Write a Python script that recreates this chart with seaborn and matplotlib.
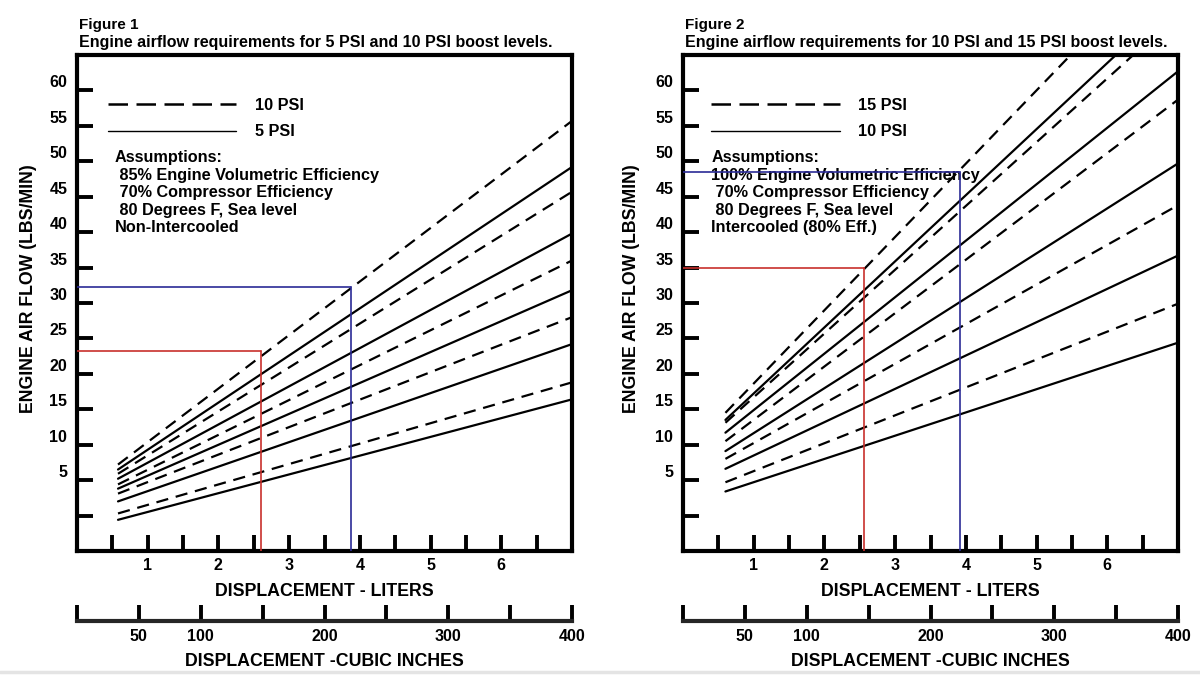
"""Engine airflow requirement charts (two panels) redrawn with seaborn."""

import matplotlib.pyplot as plt
import pandas as pd
import seaborn as sns
from matplotlib.lines import Line2D

# displacement (liters) at which each curve starts and at the right edge of the chart
SPAN_FIG1 = [0.58, 7.0]
SPAN_FIG2 = [0.6, 7.0]

# figure 1: airflow (lbs/min) at both ends of the span
FIG1_5PSI_START = [-0.6, 2.0, 3.8, 5.2, 6.5]
FIG1_5PSI_END = [16.4, 24.2, 31.8, 39.8, 49.2]
FIG1_10PSI_START = [0.3, 3.1, 4.4, 5.9, 7.2]
FIG1_10PSI_END = [18.8, 28.0, 36.0, 45.7, 55.7]

# figure 2: the upper curves run off the top of the chart
FIG2_10PSI_START = [3.4, 6.6, 9.1, 11.7, 13.5]
FIG2_10PSI_END = [24.4, 36.7, 49.7, 62.7, 73.2]
FIG2_15PSI_START = [4.7, 8.0, 10.5, 13.1, 14.5]
FIG2_15PSI_END = [29.9, 43.8, 58.7, 70.7, 80.7]

# worked examples drawn in red and blue (fig 1, fig 2)
RED_LITERS = [2.6, 2.56]
RED_FLOW = [23.2, 35.0]
BLUE_LITERS = [3.88, 3.92]
BLUE_FLOW = [32.3, 48.5]

Y_TICKS = list(range(0, 65, 5))
Y_TICK_LABELS = [""] + [str(v) for v in range(5, 65, 5)]
X_TICKS = [0.5 * i for i in range(1, 14)]
X_TICK_LABELS = [str(int(t)) if t == int(t) else "" for t in X_TICKS]
CI_TICKS = list(range(0, 401, 50))
CI_TICK_LABELS = ["", "50", "100", "", "200", "", "300", "", "400"]

FIG_NAMES = ["Figure 1", "Figure 2"]
FIG_TITLES = [
    "Engine airflow requirements for 5 PSI and 10 PSI boost levels.",
    "Engine airflow requirements for 10 PSI and 15 PSI boost levels.",
]
LEGEND_LABELS = [["10 PSI", "5 PSI"], ["15 PSI", "10 PSI"]]
ASSUMPTIONS = [
    "Assumptions:\n 85% Engine Volumetric Efficiency\n 70% Compressor Efficiency\n"
    " 80 Degrees F, Sea level\nNon-Intercooled",
    "Assumptions:\n100% Engine Volumetric Efficiency\n 70% Compressor Efficiency\n"
    " 80 Degrees F, Sea level\nIntercooled (80% Eff.)",
]

RED = "#c8302c"
BLUE = "#2b2b96"
CURVE_DASH = (5.5, 3.5)
TEXT_SIZE = 11.7
TICK_SIZE = 11.5
LABEL_SIZE = 12.8


def curves_frame(span, solid_start, solid_end, dashed_start, dashed_end, solid_name, dashed_name):
    """Long-form table with one straight curve per boost line."""
    rows = []
    for boost, starts, ends in (
        (solid_name, solid_start, solid_end),
        (dashed_name, dashed_start, dashed_end),
    ):
        for i, (y0, y1) in enumerate(zip(starts, ends)):
            rows.append({"curve": f"{boost}-{i}", "boost": boost, "liters": span[0], "flow": y0})
            rows.append({"curve": f"{boost}-{i}", "boost": boost, "liters": span[1], "flow": y1})
    return pd.DataFrame(rows)


# pylint: disable=too-many-arguments,too-many-locals
def draw_panel(fig, left, idx, df, solid_name, dashed_name, text_x, legend_x, ylabel_x):
    width = 0.4125
    ax = fig.add_axes([left, 0.1837, width, 0.7348])
    ci_ax = fig.add_axes([left, 0.0800, width, 0.03])

    sns.lineplot(
        data=df, x="liters", y="flow", units="curve", estimator=None, sort=False,
        style="boost", style_order=[solid_name, dashed_name],
        dashes={solid_name: "", dashed_name: CURVE_DASH},
        color="black", lw=1.6, legend=False, ax=ax, zorder=3,
    )

    # worked example
    rx, ry = RED_LITERS[idx], RED_FLOW[idx]
    bx, by = BLUE_LITERS[idx], BLUE_FLOW[idx]
    ax.plot([rx, rx], [-5, ry], color=RED, lw=1.2, zorder=4)
    ax.plot([0, rx], [ry, ry], color=RED, lw=1.2, zorder=4)
    ax.plot([bx, bx], [-5, by], color=BLUE, lw=1.2, zorder=4)
    ax.plot([0, bx], [by, by], color=BLUE, lw=1.2, zorder=4)

    ax.set_xlim(0, 7.0)
    ax.set_ylim(-5, 65)
    ax.set_xticks(X_TICKS, X_TICK_LABELS)
    ax.set_yticks(Y_TICKS, Y_TICK_LABELS)
    ax.tick_params(axis="both", direction="in", length=11.5, width=2.8, labelsize=TICK_SIZE,
                   bottom=True, left=True, right=False, top=False, color="black")
    ax.tick_params(axis="y", pad=7)
    ax.tick_params(axis="x", pad=5)
    for lab in ax.get_yticklabels():
        lab.set_verticalalignment("bottom")
    for lab in ax.get_xticklabels() + ax.get_yticklabels():
        lab.set_fontweight("bold")
    for spine in ax.spines.values():
        spine.set_visible(True)
        spine.set_linewidth(3.0)
        spine.set_color("black")

    ax.set_xlabel("DISPLACEMENT - LITERS", fontsize=LABEL_SIZE, fontweight="bold")
    ax.set_ylabel("ENGINE AIR FLOW (LBS/MIN)", fontsize=LABEL_SIZE, fontweight="bold")
    ax.xaxis.set_label_coords(0.5, -0.064)
    ax.yaxis.set_label_coords(ylabel_x, 0.53)

    handles = [
        Line2D([], [], color="black", lw=1.8, ls=(0, (7.8, 3.4))),
        Line2D([], [], color="black", lw=1.0),
    ]
    ax.legend(handles, LEGEND_LABELS[idx], loc="upper left", bbox_to_anchor=(legend_x, 0.914),
              frameon=False, handlelength=7.9, handletextpad=1.15, labelspacing=0.72,
              borderpad=0, borderaxespad=0, prop={"size": TEXT_SIZE, "weight": "bold"})

    ax.text(text_x, 0.808, ASSUMPTIONS[idx], transform=ax.transAxes, ha="left", va="top",
            fontsize=TEXT_SIZE, fontweight="bold", linespacing=1.21, zorder=2)

    # cubic inch scale below
    ci_ax.set_xlim(0, 400)
    ci_ax.set_ylim(0, 1)
    ci_ax.set_xticks(CI_TICKS, CI_TICK_LABELS)
    ci_ax.set_yticks([])
    ci_ax.patch.set_alpha(0)
    for name, spine in ci_ax.spines.items():
        spine.set_visible(name == "bottom")
    ci_ax.spines["bottom"].set_linewidth(3.0)
    ci_ax.tick_params(axis="x", direction="in", length=11.5, width=2.8, pad=6,
                      labelsize=TICK_SIZE, bottom=True, color="black")
    for lab in ci_ax.get_xticklabels():
        lab.set_fontweight("bold")
    ci_ax.set_xlabel("DISPLACEMENT -CUBIC INCHES", fontsize=LABEL_SIZE, fontweight="bold",
                     labelpad=6)

    fig.text(left + 0.002, 1 - 25 / 675, FIG_NAMES[idx], fontsize=11, fontweight="bold",
             va="center")
    fig.text(left + 0.002, 1 - 42.5 / 675, FIG_TITLES[idx], fontsize=11.5, fontweight="bold",
             va="center")
    return ax


sns.set_style("white")
plt.rcParams["font.family"] = ["Liberation Sans", "DejaVu Sans"]
plt.rcParams.update({"text.color": "black", "axes.labelcolor": "black",
                     "xtick.color": "black", "ytick.color": "black"})

fig = plt.figure(figsize=(12, 6.75), dpi=100)

df1 = curves_frame(SPAN_FIG1, FIG1_5PSI_START, FIG1_5PSI_END,
                   FIG1_10PSI_START, FIG1_10PSI_END, "5 PSI", "10 PSI")
df2 = curves_frame(SPAN_FIG2, FIG2_10PSI_START, FIG2_10PSI_END,
                   FIG2_15PSI_START, FIG2_15PSI_END, "10 PSI", "15 PSI")

draw_panel(fig, 77 / 1200, 0, df1, "5 PSI", "10 PSI", 0.076, 0.062, -0.08)
draw_panel(fig, 683 / 1200, 1, df2, "10 PSI", "15 PSI", 0.057, 0.057, -0.086)

# faint grey band along the bottom edge of the scanned page
fig.add_artist(Line2D([0, 1], [0.004, 0.004], transform=fig.transFigure,
                      color="#e4e4e4", lw=2.5))

fig.savefig("out.png", dpi=100)
plt.close(fig)
